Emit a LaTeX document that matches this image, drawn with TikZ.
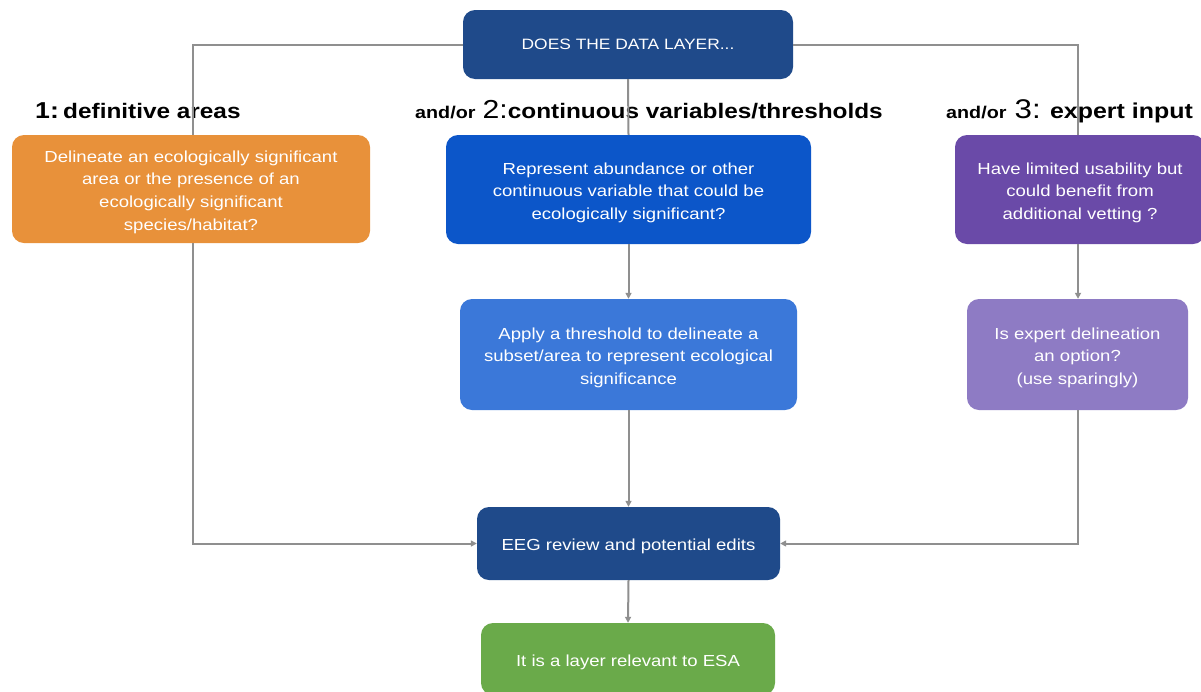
\documentclass[tikz,border=0pt]{standalone}
\usepackage{fontspec}
\setmainfont{Liberation Sans}[FakeStretch=1.16]
\usetikzlibrary{arrows.meta}
\definecolor{navy}{HTML}{1F4A8A}
\definecolor{orng}{HTML}{E8913A}
\definecolor{blueA}{HTML}{0C56C9}
\definecolor{blueB}{HTML}{3B78D9}
\definecolor{purpA}{HTML}{6A4AA8}
\definecolor{purpB}{HTML}{8E7BC4}
\definecolor{grn}{HTML}{6AAA4A}
\definecolor{conn}{HTML}{8F8F8F}
\newcommand{\toppad}{\rule{0pt}{18pt}}
\tikzset{
  box/.style={rounded corners=12pt, text=white, align=center, inner sep=0pt,
    font=\fontsize{16}{22.7}\selectfont},
  link/.style={draw=conn, line width=2pt},
  arr/.style={link, -{Triangle[length=6pt,width=6pt]}},
  lab/.style={anchor=base west, inner sep=0pt, text=black},
}
\begin{document}
\begin{tikzpicture}[x=1pt,y=-1pt]
\useasboundingbox[fill=white] (0,0) rectangle (1201,691);
\coordinate (cl) at (193,44.5);
\coordinate (cr) at (1078,44.5);
\coordinate (bl) at (193,543.5);
\coordinate (br) at (1078,543.5);
% boxes
\node[box, fill=navy, minimum width=330pt, minimum height=69pt, font=\fontsize{15}{20}\selectfont] (top) at (628,44.5) {DOES THE DATA LAYER...};
\node[box, fill=orng, minimum width=358pt, minimum height=108pt] (orange) at (191,189) {\toppad Delineate an ecologically significant\\area or the presence of an\\ecologically significant\\species/habitat?};
\node[box, fill=blueA, minimum width=365pt, minimum height=109pt] (cont) at (628.5,189.5) {\toppad Represent abundance or other\\continuous variable that could be\\ecologically significant?};
\node[box, fill=purpA, minimum width=250pt, minimum height=109pt] (lim) at (1080,189.5) {\toppad Have limited usability but\\could benefit from\\additional vetting ?};
\node[box, fill=blueB, minimum width=337pt, minimum height=111pt] (thr) at (628.5,354.5) {\toppad Apply a threshold to delineate a\\subset/area to represent ecological\\significance};
\node[box, fill=purpB, minimum width=221pt, minimum height=111pt] (exp) at (1077.5,354.5) {\toppad Is expert delineation\\an option?\\(use sparingly)};
\node[box, fill=navy, minimum width=303pt, minimum height=73pt] (eeg) at (628.5,543.5) {\toppad EEG review and potential edits};
\node[box, fill=grn, minimum width=294pt, minimum height=72pt] (esa) at (628,659) {\toppad It is a layer relevant to ESA};
% labels
\node[lab] (l1) at (35,118) {{\bfseries\fontsize{23}{23}\selectfont 1:} {\bfseries\fontsize{21}{21}\selectfont definitive areas}};
\node[lab] (l2) at (415,118) {{\bfseries\fontsize{17}{17}\selectfont and/or}\hspace{4pt} {\fontsize{26}{26}\selectfont 2:}{\bfseries\fontsize{21}{21}\selectfont continuous variables/thresholds}};
\node[lab] (l3) at (946,118) {{\bfseries\fontsize{17}{17}\selectfont and/or}\hspace{5pt} {\fontsize{27}{27}\selectfont 3:}\hspace{5pt} {\bfseries\fontsize{21.5}{21}\selectfont expert input}};
% connectors
\draw[link] (top.west) -- (cl) -- (cl |- orange.north);
\draw[link] (top.east) -- (cr) -- (cr |- lim.north);
\draw[link] (top.south) -- (cont.north);
\draw[arr] (cont.south) -- (thr.north);
\draw[arr] (thr.south) -- (eeg.north);
\draw[arr] (cr |- lim.south) -- (cr |- exp.north);
\draw[arr] (bl |- orange.south) -- (bl) -- (eeg.west);
\draw[arr] (br |- exp.south) -- (br) -- (eeg.east);
\draw[arr] (eeg.south) -- (esa.north);
\end{tikzpicture}
\end{document}
